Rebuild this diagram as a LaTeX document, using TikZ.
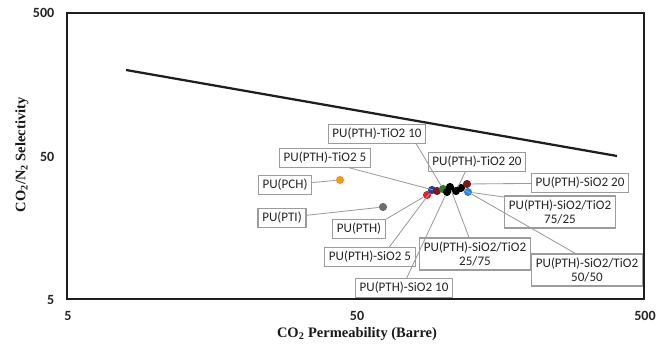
\documentclass[tikz,border=0pt]{standalone}
\usepackage{fontspec}
\setmainfont{Carlito}
\newfontfamily\titlefont{Liberation Serif}
\usepackage{xcolor}
\definecolor{frameColor}{HTML}{1E1E1E}
\definecolor{boxColor}{HTML}{9C9C9C}
\definecolor{pchColor}{HTML}{F39A1E}
\definecolor{ptiColor}{HTML}{6E6E6E}
\definecolor{redColor}{HTML}{D8262A}
\definecolor{blueColor}{HTML}{233E97}
\definecolor{maroonColor}{HTML}{7A1A1A}
\definecolor{greenColor}{HTML}{2F7D34}
\definecolor{skyColor}{HTML}{2E86DE}
\usepackage{tikz}

\begin{document}
\begin{tikzpicture}[x=0.025cm,y=-0.025cm,
  lbl/.style={draw=boxColor,line width=0.8pt,fill=white,inner xsep=3pt,inner ysep=2.5pt,
    font=\fontsize{9.3}{10.5}\selectfont,text=black!85,align=center},
  dot/.style={circle,inner sep=0pt,minimum size=5.8pt},
  lead/.style={draw=boxColor,line width=0.6pt},
  tick/.style={font=\bfseries\fontsize{10}{12}\selectfont,text=black!85,inner sep=1pt},
  axtitle/.style={font=\titlefont\bfseries\fontsize{10.3}{12}\selectfont,text=black!90}]
\useasboundingbox (0,0) rectangle (667,346);
% plot frame and upper bound
\draw[frameColor,line width=1.2pt] (67,13) rectangle (644,299);
\coordinate (ubA) at (126,70);
\coordinate (ubB) at (617,156);
\draw[frameColor,line width=1.6pt] (ubA) -- (ubB);
%
\node[tick,anchor=east] (y500) at (56,13) {500};
\node[tick,anchor=east] (y50) at (56,157) {50};
\node[tick,anchor=east] (y5) at (56,300) {5};
\node[tick] (x5) at (68,316) {5};
\node[tick] (x50) at (357,316) {50};
\node[tick] (x500) at (645,316) {500};
\node[axtitle] (xt) at (357,334) {CO\textsubscript{2} Permeability (Barre)};
\node[axtitle,rotate=90] (yt) at (22,155) {CO\textsubscript{2}/N\textsubscript{2} Selectivity};
% data points
\node[dot,fill=pchColor] (pch) at (340,180) {};
\node[dot,fill=ptiColor] (pti) at (383,207) {};
\node[dot,fill=redColor] (pth) at (427,195) {};
\node[dot,fill=blueColor] (sio5) at (432,190) {};
\node[dot,fill=maroonColor] (tio5) at (437,191) {};
\node[dot,fill=greenColor] (tio10) at (443,189) {};
\node[dot,fill=black] (sio10) at (447,192) {};
\node[dot,fill=black] (mixA) at (450,187) {};
\node[dot,fill=black] (tio20) at (456,191) {};
\node[dot,fill=black] (mixB) at (461,188) {};
\node[dot,fill=maroonColor] (sio20) at (467,184) {};
\node[dot,fill=skyColor] (mixC) at (468,192) {};
% labels
\node[lbl] (lPCH) at (285,185) {PU(PCH)};
\node[lbl] (lPTI) at (282,218) {PU(PTI)};
\node[lbl] (lPTH) at (359,229) {PU(PTH)};
\node[lbl] (lTiO5) at (325,158) {PU(PTH)-TiO2 5};
\node[lbl] (lTiO10) at (377,134) {PU(PTH)-TiO2 10};
\node[lbl] (lTiO20) at (477,162) {PU(PTH)-TiO2 20};
\node[lbl] (lSiO5) at (370,257) {PU(PTH)-SiO2 5};
\node[lbl] (lSiO10) at (404,288) {PU(PTH)-SiO2 10};
\node[lbl] (lSiO20) at (580,183) {PU(PTH)-SiO2 20};
\node[lbl] (lMixA) at (475,254) {PU(PTH)-SiO2/TiO2\\25/75};
\node[lbl] (lMixC) at (560,212) {PU(PTH)-SiO2/TiO2\\75/25};
\node[lbl] (lMixB) at (587,270) {PU(PTH)-SiO2/TiO2\\50/50};
% leaders
\draw[lead] (lPCH) -- (pch);
\draw[lead] (lPTI) -- (pti);
\draw[lead] (lPTH.north east) -- (pth);
\draw[lead] (lTiO5.-22) -- (tio5);
\draw[lead] (lTiO10.-14) -- (tio10);
\draw[lead] (lTiO20.-140) -- (tio20);
\draw[lead] (lSiO5.27) -- (sio5);
\draw[lead] (lSiO10.75) -- (sio10);
\draw[lead] (lSiO20) -- (sio20);
\draw[lead] (lMixA.110) -- (mixA);
\draw[lead] (lMixC.165) -- (mixC);
\draw[lead] (lMixB.125) -- (mixB);
\end{tikzpicture}
\end{document}
